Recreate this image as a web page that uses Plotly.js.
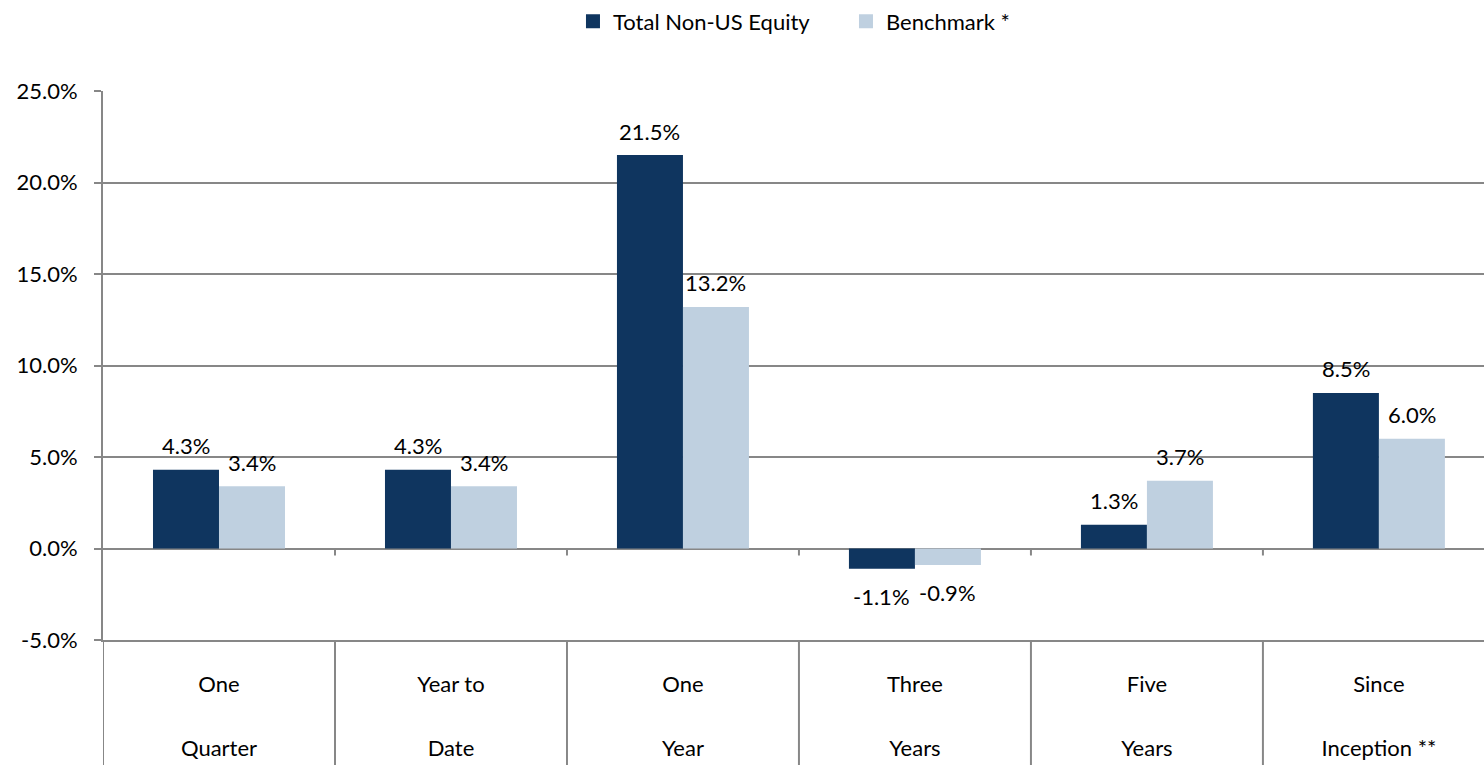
<!DOCTYPE html>
<html>
<head>
<meta charset="utf-8">
<script src="https://cdn.plot.ly/plotly-3.0.1.min.js"></script>
<style>
  html, body { margin: 0; padding: 0; background: #ffffff; }
  #chart { width: 1484px; height: 765px; }
</style>
</head>
<body>
<div id="chart"></div>
<script>
// ---- data ----
const categories = ["One Quarter", "Year to Date", "One Year", "Three Years", "Five Years", "Since Inception **"];
const labelLine1 = ["One", "Year to", "One", "Three", "Five", "Since"];
const labelLine2 = ["Quarter", "Date", "Year", "Years", "Years", "Inception **"];
const seriesNames = ["Total Non-US Equity", "Benchmark *"];
const totalNonUS = [4.3, 4.3, 21.5, -1.1, 1.3, 8.5];
const benchmark = [3.4, 3.4, 13.2, -0.9, 3.7, 6.0];
const yTicks = [-5, 0, 5, 10, 15, 20, 25];

// ---- style ----
const darkColor = "#0F355F";
const lightColor = "#BFD0E0";
const gridColor = "#878787";
const fontFamily = "Lato, 'Liberation Sans', sans-serif";
const fs = 22;
const xRange = [-0.5, 5.453];
const colors = [darkColor, lightColor];

const traces = [
  { type: "bar", name: seriesNames[0], x: categories, y: totalNonUS,
    marker: { color: darkColor }, hoverinfo: "skip", showlegend: false },
  { type: "bar", name: seriesNames[1], x: categories, y: benchmark,
    marker: { color: lightColor }, hoverinfo: "skip", showlegend: false },
  { type: "scatter", mode: "none", x: categories, y: categories.map(() => null),
    xaxis: "x2", yaxis: "y", showlegend: false, hoverinfo: "skip" }
];
// legend entries with larger square keys
seriesNames.forEach((n, k) => {
  traces.push({ type: "scatter", mode: "markers", name: n, x: [categories[0]], y: [null],
    marker: { symbol: "square", size: 14, color: colors[k] }, hoverinfo: "skip" });
});

const annotations = [];
[[totalNonUS, -33], [benchmark, 33]].forEach(([vals, xs]) => {
  vals.forEach((v, i) => {
    annotations.push({
      x: categories[i], y: v, xref: "x", yref: "y",
      text: v.toFixed(1) + "%", showarrow: false,
      xshift: xs, yshift: v >= 0 ? 24 : -28, yanchor: "middle",
      font: { family: fontFamily, size: fs, color: "#000" }
    });
  });
});

const shapes = [];
for (let i = 0; i <= categories.length; i++) {
  const b = i - 0.5;
  shapes.push({ type: "line", xref: "x", yref: "paper", x0: b, x1: b, y0: 0, y1: -0.23,
    line: { color: gridColor, width: 2 } });
  if (i > 0) {
    shapes.push({ type: "line", xref: "x", yref: "y", ysizemode: "pixel", yanchor: 0,
      x0: b, x1: b, y0: 0, y1: -7, line: { color: gridColor, width: 2 } });
  }
}

const layout = {
  width: 1484, height: 765,
  margin: { l: 103, r: 0, t: 88, b: 125, pad: 0 },
  paper_bgcolor: "#ffffff", plot_bgcolor: "#ffffff",
  font: { family: fontFamily, size: fs, color: "#000" },
  barmode: "group", bargap: 0.431, bargroupgap: 0,
  showlegend: true,
  legend: { orientation: "h", x: 0.538, xanchor: "center", y: 1.165, yanchor: "top",
    font: { family: fontFamily, size: fs, color: "#000" }, traceorder: "normal",
    itemwidth: 30, entrywidth: 228, entrywidthmode: "pixels" },
  xaxis: {
    type: "category", range: xRange, tickvals: categories, ticktext: labelLine1,
    ticks: "", showgrid: false, zeroline: false,
    showline: true, linecolor: gridColor, linewidth: 2,
    ticklabelstandoff: 24, tickfont: { family: fontFamily, size: fs, color: "#000" },
    fixedrange: true
  },
  xaxis2: {
    type: "category", overlaying: "x", anchor: "y", side: "bottom", range: xRange,
    tickvals: categories, ticktext: labelLine2, ticks: "", showgrid: false,
    zeroline: false, showline: false, ticklabelstandoff: 93,
    tickfont: { family: fontFamily, size: fs, color: "#000" }, fixedrange: true
  },
  yaxis: {
    range: [-5, 25], tickvals: yTicks, ticktext: yTicks.map(v => v.toFixed(1) + "%"),
    showgrid: true, gridcolor: gridColor, gridwidth: 2,
    zeroline: true, zerolinecolor: gridColor, zerolinewidth: 2,
    showline: true, linecolor: gridColor, linewidth: 2,
    ticks: "outside", ticklen: 7, tickwidth: 2, tickcolor: gridColor,
    ticklabelstandoff: 12,
    tickfont: { family: fontFamily, size: fs, color: "#000" }, fixedrange: true
  },
  annotations: annotations,
  shapes: shapes
};

Plotly.newPlot("chart", traces, layout, { displayModeBar: false, staticPlot: true });
</script>
</body>
</html>
